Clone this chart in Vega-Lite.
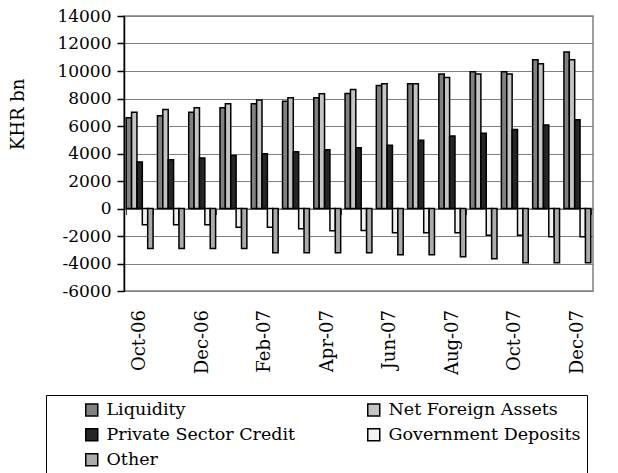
{
  "$schema": "https://vega.github.io/schema/vega-lite/v6.json",
  "width": 469,
  "height": 275,
  "autosize": {"type": "none"},
  "padding": {"left": 124, "top": 16, "right": 25, "bottom": 182},
  "background": "white",
  "config": {
    "font": "DejaVu Serif",
    "view": {"stroke": "#808080", "strokeWidth": 1.5},
    "axis": {"labelFont": "DejaVu Serif", "titleFont": "DejaVu Serif"},
    "legend": {"strokeColor": "black", "labelFont": "DejaVu Serif", "titleFont": "DejaVu Serif"}
  },
  "data": {
    "values": [
      {"m": "Oct-06", "s": "Liquidity", "v": 6600}, {"m": "Oct-06", "s": "Net Foreign Assets", "v": 7000}, {"m": "Oct-06", "s": "Private Sector Credit", "v": 3390}, {"m": "Oct-06", "s": "Government Deposits", "v": -1190}, {"m": "Oct-06", "s": "Other", "v": -2900},
      {"m": "Nov-06", "s": "Liquidity", "v": 6740}, {"m": "Nov-06", "s": "Net Foreign Assets", "v": 7200}, {"m": "Nov-06", "s": "Private Sector Credit", "v": 3540}, {"m": "Nov-06", "s": "Government Deposits", "v": -1190}, {"m": "Nov-06", "s": "Other", "v": -2900},
      {"m": "Dec-06", "s": "Liquidity", "v": 7000}, {"m": "Dec-06", "s": "Net Foreign Assets", "v": 7320}, {"m": "Dec-06", "s": "Private Sector Credit", "v": 3680}, {"m": "Dec-06", "s": "Government Deposits", "v": -1190}, {"m": "Dec-06", "s": "Other", "v": -2900},
      {"m": "Jan-07", "s": "Liquidity", "v": 7320}, {"m": "Jan-07", "s": "Net Foreign Assets", "v": 7610}, {"m": "Jan-07", "s": "Private Sector Credit", "v": 3850}, {"m": "Jan-07", "s": "Government Deposits", "v": -1360}, {"m": "Jan-07", "s": "Other", "v": -2900},
      {"m": "Feb-07", "s": "Liquidity", "v": 7610}, {"m": "Feb-07", "s": "Net Foreign Assets", "v": 7900}, {"m": "Feb-07", "s": "Private Sector Credit", "v": 3980}, {"m": "Feb-07", "s": "Government Deposits", "v": -1360}, {"m": "Feb-07", "s": "Other", "v": -3220},
      {"m": "Mar-07", "s": "Liquidity", "v": 7800}, {"m": "Mar-07", "s": "Net Foreign Assets", "v": 8050}, {"m": "Mar-07", "s": "Private Sector Credit", "v": 4120}, {"m": "Mar-07", "s": "Government Deposits", "v": -1480}, {"m": "Mar-07", "s": "Other", "v": -3220},
      {"m": "Apr-07", "s": "Liquidity", "v": 8050}, {"m": "Apr-07", "s": "Net Foreign Assets", "v": 8340}, {"m": "Apr-07", "s": "Private Sector Credit", "v": 4270}, {"m": "Apr-07", "s": "Government Deposits", "v": -1620}, {"m": "Apr-07", "s": "Other", "v": -3220},
      {"m": "May-07", "s": "Liquidity", "v": 8360}, {"m": "May-07", "s": "Net Foreign Assets", "v": 8650}, {"m": "May-07", "s": "Private Sector Credit", "v": 4410}, {"m": "May-07", "s": "Government Deposits", "v": -1600}, {"m": "May-07", "s": "Other", "v": -3220},
      {"m": "Jun-07", "s": "Liquidity", "v": 8950}, {"m": "Jun-07", "s": "Net Foreign Assets", "v": 9070}, {"m": "Jun-07", "s": "Private Sector Credit", "v": 4600}, {"m": "Jun-07", "s": "Government Deposits", "v": -1770}, {"m": "Jun-07", "s": "Other", "v": -3370},
      {"m": "Jul-07", "s": "Liquidity", "v": 9070}, {"m": "Jul-07", "s": "Net Foreign Assets", "v": 9070}, {"m": "Jul-07", "s": "Private Sector Credit", "v": 4970}, {"m": "Jul-07", "s": "Government Deposits", "v": -1770}, {"m": "Jul-07", "s": "Other", "v": -3370},
      {"m": "Aug-07", "s": "Liquidity", "v": 9790}, {"m": "Aug-07", "s": "Net Foreign Assets", "v": 9530}, {"m": "Aug-07", "s": "Private Sector Credit", "v": 5280}, {"m": "Aug-07", "s": "Government Deposits", "v": -1770}, {"m": "Aug-07", "s": "Other", "v": -3500},
      {"m": "Sep-07", "s": "Liquidity", "v": 9940}, {"m": "Sep-07", "s": "Net Foreign Assets", "v": 9790}, {"m": "Sep-07", "s": "Private Sector Credit", "v": 5480}, {"m": "Sep-07", "s": "Government Deposits", "v": -1940}, {"m": "Sep-07", "s": "Other", "v": -3660},
      {"m": "Oct-07", "s": "Liquidity", "v": 9940}, {"m": "Oct-07", "s": "Net Foreign Assets", "v": 9790}, {"m": "Oct-07", "s": "Private Sector Credit", "v": 5750}, {"m": "Oct-07", "s": "Government Deposits", "v": -1940}, {"m": "Oct-07", "s": "Other", "v": -3950},
      {"m": "Nov-07", "s": "Liquidity", "v": 10810}, {"m": "Nov-07", "s": "Net Foreign Assets", "v": 10520}, {"m": "Nov-07", "s": "Private Sector Credit", "v": 6080}, {"m": "Nov-07", "s": "Government Deposits", "v": -2060}, {"m": "Nov-07", "s": "Other", "v": -3950},
      {"m": "Dec-07", "s": "Liquidity", "v": 11390}, {"m": "Dec-07", "s": "Net Foreign Assets", "v": 10810}, {"m": "Dec-07", "s": "Private Sector Credit", "v": 6450}, {"m": "Dec-07", "s": "Government Deposits", "v": -2060}, {"m": "Dec-07", "s": "Other", "v": -3950}
    ]
  },
  "mark": {"type": "bar", "stroke": "black", "strokeWidth": 1.5},
  "encoding": {
    "x": {
      "field": "m",
      "type": "nominal",
      "sort": null,
      "scale": {"paddingInner": 0.14, "paddingOuter": 0.07},
      "axis": {
        "title": null,
        "orient": "bottom",
        "offset": -82.5,
        "values": ["Oct-06", "Dec-06", "Feb-07", "Apr-07", "Jun-07", "Aug-07", "Oct-07", "Dec-07"],
        "tickBand": "extent",
        "ticks": true,
        "tickSize": 6,
        "tickColor": "#404040",
        "tickWidth": 1,
        "domain": true,
        "domainColor": "#606060",
        "domainWidth": 1,
        "labelAngle": -90,
        "labelFont": "DejaVu Serif",
        "labelFontSize": 18,
        "labelColor": "black",
        "labelPadding": 95,
        "labelAlign": "right",
        "labelBaseline": "middle"
      }
    },
    "xOffset": {
      "field": "s",
      "type": "nominal",
      "sort": ["Liquidity", "Net Foreign Assets", "Private Sector Credit", "Government Deposits", "Other"],
      "scale": {"paddingInner": 0, "paddingOuter": 0}
    },
    "y": {
      "field": "v",
      "type": "quantitative",
      "scale": {"domain": [-6000, 14000], "nice": false, "zero": false},
      "axis": {
        "title": "KHR bn",
        "titleFont": "DejaVu Serif",
        "titleFontSize": 18,
        "titleFontWeight": "normal",
        "titleColor": "black",
        "titleX": -97,
        "titleY": 98,
        "titleAngle": -90,
        "titleAlign": "center",
        "titleBaseline": "bottom",
        "values": [-6000, -4000, -2000, 0, 2000, 4000, 6000, 8000, 10000, 12000, 14000],
        "labelExpr": "'' + datum.value",
        "labelFont": "DejaVu Serif",
        "labelFontSize": 17,
        "labelColor": "black",
        "labelPadding": 6,
        "grid": true,
        "gridColor": "#808080",
        "gridWidth": 1.2,
        "domainColor": "black",
        "domainWidth": 1.5,
        "tickColor": "black",
        "tickSize": 7,
        "tickWidth": 1.5
      }
    },
    "fill": {
      "field": "s",
      "type": "nominal",
      "sort": ["Liquidity", "Net Foreign Assets", "Private Sector Credit", "Government Deposits", "Other"],
      "scale": {
        "domain": ["Liquidity", "Net Foreign Assets", "Private Sector Credit", "Government Deposits", "Other"],
        "range": ["#808080", "#c4c4c4", "#262626", "#f2f2f2", "#ababab"]
      },
      "legend": {
        "title": null,
        "orient": "none",
        "legendX": -78,
        "legendY": 379,
        "direction": "horizontal",
        "columns": 2,
        "gridAlign": "each",
        "columnPadding": 38,
        "rowPadding": 6,
        "symbolType": "square",
        "symbolSize": 144,
        "symbolStrokeColor": "black",
        "symbolStrokeWidth": 1.5,
        "symbolOpacity": 1,
        "symbolOffset": 31,
        "labelFont": "DejaVu Serif",
        "labelFontSize": 17.5,
        "labelColor": "black",
        "labelOffset": 6,
        "labelLimit": 400,
        "strokeColor": "black",
        "padding": 6
      }
    }
  }
}
